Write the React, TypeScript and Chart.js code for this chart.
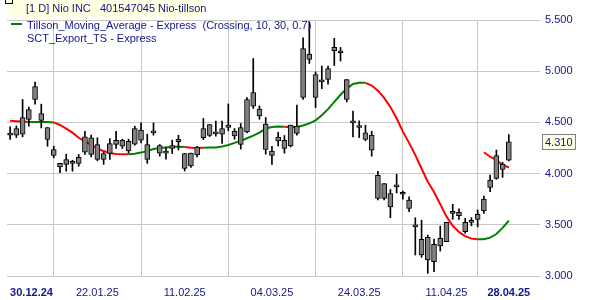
import React, { useEffect, useRef } from 'react';
import { Chart, registerables } from 'chart.js';

Chart.register(...registerables);

// ---- data (index 0 = 30.12.24 ... 80 = 28.04.25, trading days) ----
const opens = [
  4.375, 4.375, 4.385, 4.528, 4.724, 4.587, 4.45, 4.235, 4.10, 4.09,
  4.10, 4.10, 4.21, 4.35, 4.284, 4.138, 4.196, 4.284, 4.326, 4.316,
  4.287, 4.424, 4.284, 4.398, 4.274, 4.22, 4.245, 4.313, 4.196, 4.075,
  4.183, 4.35, 4.479, 4.388, 4.385, 4.45, 4.414, 4.284, 4.408, 4.658,
  4.629, 4.483, 4.22, 4.32, 4.326, 4.27, 4.463, 4.743, 5.166, 4.967,
  4.896, 4.919, 5.20, 5.18, 4.919, 4.495, 4.45, 4.398, 4.375, 3.984,
  3.902, 3.804, 3.871, 3.798, 3.742, 3.48, 3.358, 3.156, 3.31, 3.293,
  3.335, 3.612, 3.59, 3.433, 3.524, 3.553, 3.635, 3.866, 3.954, 4.09,
  4.13,
];
const highs = [
  4.456, 4.465, 4.724, 4.65, 4.893, 4.678, 4.45, 4.267, 4.10, 4.19,
  4.13, 4.187, 4.414, 4.375, 4.35, 4.212, 4.343, 4.414, 4.336, 4.336,
  4.463, 4.495, 4.385, 4.495, 4.284, 4.255, 4.326, 4.375, 4.196, 4.20,
  4.267, 4.538, 4.479, 4.512, 4.512, 4.68, 4.44, 4.489, 4.743, 5.124,
  4.661, 4.548, 4.267, 4.404, 4.372, 4.473, 4.668, 5.325, 5.482, 4.993,
  5.05, 5.05, 5.32, 5.232, 4.919, 4.61, 4.515, 4.473, 4.414, 4.023,
  3.902, 3.845, 3.994, 3.83, 3.774, 3.569, 3.545, 3.40, 3.36, 3.488,
  3.524, 3.70, 3.655, 3.563, 3.57, 3.645, 3.78, 3.986, 4.23, 4.11,
  4.382,
];
const lows = [
  4.333, 4.352, 4.358, 4.463, 4.678, 4.446, 4.267, 4.154, 4.01, 4.023,
  4.023, 4.072, 4.187, 4.163, 4.125, 4.09, 4.138, 4.245, 4.245, 4.20,
  4.277, 4.30, 4.10, 4.375, 4.17, 4.14, 4.196, 4.23, 4.026, 4.06,
  4.163, 4.333, 4.362, 4.365, 4.294, 4.417, 4.336, 4.24, 4.398, 4.636,
  4.531, 4.19, 4.09, 4.27, 4.20, 4.26, 4.375, 4.724, 5.075, 4.645,
  4.83, 4.873, 5.056, 5.10, 4.70, 4.358, 4.352, 4.32, 4.17, 3.742,
  3.742, 3.569, 3.811, 3.75, 3.628, 3.205, 3.182, 3.026, 3.042, 3.244,
  3.335, 3.553, 3.553, 3.417, 3.49, 3.48, 3.612, 3.824, 3.944, 3.964,
  4.125,
];
const closes = [
  4.375, 4.44, 4.548, 4.626, 4.85, 4.52, 4.333, 4.177, 4.065, 4.138,
  4.10, 4.158, 4.358, 4.187, 4.138, 4.196, 4.294, 4.326, 4.268, 4.221,
  4.44, 4.326, 4.138, 4.398, 4.20, 4.20, 4.274, 4.336, 4.05, 4.20,
  4.26, 4.44, 4.372, 4.388, 4.44, 4.473, 4.368, 4.45, 4.724, 4.792,
  4.564, 4.235, 4.177, 4.356, 4.245, 4.473, 4.392, 5.222, 5.114, 4.743,
  4.896, 5.026, 5.232, 5.18, 4.724, 4.495, 4.45, 4.333, 4.23, 3.757,
  3.757, 3.674, 3.871, 3.798, 3.66, 3.48, 3.205, 3.378, 3.14, 3.368,
  3.524, 3.612, 3.622, 3.524, 3.524, 3.602, 3.752, 3.937, 4.175, 4.04,
  4.31,
];
// Tillson moving average (T3) values per bar
const tillson = [
  4.515, 4.512, 4.509, 4.505, 4.505, 4.505, 4.505, 4.50, 4.475, 4.44,
  4.40, 4.35, 4.315, 4.28, 4.245, 4.22, 4.20, 4.192, 4.19, 4.19,
  4.195, 4.205, 4.22, 4.24, 4.25, 4.256, 4.262, 4.262, 4.26, 4.252,
  4.25, 4.252, 4.255, 4.256, 4.265, 4.28, 4.30, 4.32, 4.345, 4.37,
  4.40, 4.44, 4.455, 4.46, 4.458, 4.453, 4.455, 4.47, 4.49, 4.52,
  4.57, 4.63, 4.70, 4.77, 4.83, 4.875, 4.886, 4.886, 4.86, 4.81,
  4.74, 4.65, 4.54, 4.41, 4.30, 4.18, 4.05, 3.92, 3.82, 3.70,
  3.58, 3.49, 3.43, 3.39, 3.365, 3.358, 3.36, 3.375, 3.41, 3.47,
  3.54,
];
// bar-index ranges [from, to) where the Tillson line is drawn as falling (red)
const tillsonFalling = [[0, 3], [7, 19], [28, 31], [44, 46], [57, 75]];
// SCT_Export_TS values, starting at bar 76
const sctStart = 76;
const sctValues = [4.208, 4.165, 4.133, 4.084, 4.06];
// x-axis ticks
const tickIndices = [0, 14, 28, 42, 56, 70, 80];
const tickLabels = ['30.12.24', '22.01.25', '11.02.25', '04.03.25', '24.03.25', '11.04.25', '28.04.25'];
const lastPrice = 4.31;

const FONT = "'Liberation Sans', Arial, sans-serif";
const NAVY = '#15158a';
const GRID = '#c8c8c8';
const RED = '#ff0000';
const GREEN = '#008000';

const isFalling = (i: number) => tillsonFalling.some(([a, b]) => i >= a && i < b);

const priceTag = {
  id: 'priceTag',
  afterDraw(chart: any) {
    const { ctx, chartArea, scales } = chart;
    const py = scales.y.getPixelForValue(lastPrice);
    const text = lastPrice.toFixed(3);
    ctx.save();
    ctx.font = `11px ${FONT}`;
    const w = Math.round(ctx.measureText(text).width) + 5;
    const x0 = Math.round(chartArea.right) + 2;
    const top = Math.round(py - 8);
    ctx.fillStyle = '#ffffe1';
    ctx.fillRect(x0, top, w, 16);
    ctx.strokeStyle = '#808080';
    ctx.lineWidth = 1;
    ctx.strokeRect(x0 + 0.5, top + 0.5, w, 15);
    ctx.fillStyle = NAVY;
    ctx.textBaseline = 'middle';
    ctx.textAlign = 'left';
    ctx.fillText(text, x0 + 3, top + 8.5);
    ctx.restore();
  },
};

export default function App() {
  const ref = useRef<HTMLCanvasElement | null>(null);

  useEffect(() => {
    if (!ref.current) return;
    const chart = new Chart(ref.current, {
      type: 'bar',
      data: {
        datasets: [
          {
            type: 'bar',
            label: 'body',
            data: opens.map((o, i) => ({ x: i, y: [Math.min(o, closes[i]), Math.max(o, closes[i])] })),
            backgroundColor: '#808080',
            borderColor: '#000000',
            borderWidth: 1,
            borderSkipped: false,
            barThickness: 5,
            minBarLength: 2,
            grouped: false,
            order: 0,
          } as any,
          {
            type: 'bar',
            label: 'wick',
            data: highs.map((h, i) => ({ x: i, y: [lows[i], h] })),
            backgroundColor: '#000000',
            borderWidth: 0,
            barThickness: 1,
            grouped: false,
            order: 1,
          } as any,
          {
            type: 'line',
            label: 'SCT_Export_TS',
            data: sctValues.map((v, k) => ({ x: sctStart + k, y: v })),
            borderColor: RED,
            borderWidth: 2,
            pointRadius: 0,
            tension: 0,
            order: 2,
          } as any,
          {
            type: 'line',
            label: 'Tillson_Moving_Average',
            data: tillson.map((v, i) => ({ x: i, y: v })),
            borderColor: GREEN,
            borderWidth: 2,
            pointRadius: 0,
            tension: 0,
            order: 3,
            segment: {
              borderColor: (ctx: any) => (isFalling(ctx.p0DataIndex) ? RED : GREEN),
            },
          } as any,
        ],
      },
      options: {
        animation: false,
        responsive: false,
        devicePixelRatio: 1,
        layout: { padding: { left: 7, top: 20, right: 0, bottom: 0 } },
        plugins: { legend: { display: false }, tooltip: { enabled: false } },
        scales: {
          x: {
            type: 'linear',
            min: -0.5,
            max: 85,
            offset: false,
            afterBuildTicks: (s: any) => {
              s.ticks = [...tickIndices, 85].map((v) => ({ value: v }));
            },
            afterFit: (s: any) => {
              s.height = 24;
            },
            grid: {
              color: (ctx: any) => (ctx.tick && tickIndices.indexOf(ctx.tick.value) < 0 ? 'rgba(0,0,0,0)' : GRID),
              drawTicks: false,
              lineWidth: 1,
            },
            border: { display: false },
            ticks: {
              autoSkip: false,
              maxRotation: 0,
              minRotation: 0,
              align: 'inner',
              padding: 10,
              color: NAVY,
              font: (ctx: any) => ({
                family: FONT,
                size: 11,
                weight:
                  ctx.tick && (ctx.tick.value === tickIndices[0] || ctx.tick.value === tickIndices[tickIndices.length - 1])
                    ? 'bold'
                    : 'normal',
              }),
              callback: (v: any) => {
                const k = tickIndices.indexOf(Number(v));
                return k >= 0 ? tickLabels[k] : '';
              },
            },
          } as any,
          y: {
            position: 'right',
            min: 3,
            max: 5.5,
            afterFit: (s: any) => {
              s.width = 60;
            },
            grid: { color: GRID, drawTicks: false, lineWidth: 1 },
            border: { display: false },
            ticks: {
              stepSize: 0.5,
              padding: 5,
              color: NAVY,
              font: { family: FONT, size: 11 },
              callback: (v: any) => Number(v).toFixed(3),
            },
          } as any,
        },
      },
      plugins: [priceTag],
    });
    return () => chart.destroy();
  }, []);

  const text: React.CSSProperties = {
    position: 'absolute',
    fontFamily: FONT,
    fontSize: 11,
    lineHeight: '13px',
    color: NAVY,
    whiteSpace: 'pre',
  };

  return (
    <div style={{ position: 'fixed', left: 0, top: 0, width: 600, height: 300, background: '#ffffff', overflow: 'hidden' }}>
      <canvas ref={ref} width={600} height={300} style={{ display: 'block', width: 600, height: 300 }} />
      <div style={{ position: 'absolute', left: 7, top: 0, width: 195, height: 17, background: '#ffffe1' }} />
      <div style={{ position: 'absolute', left: 5, top: -3, width: 6, height: 5, border: '1px solid #000' }} />
      <div style={{ ...text, left: 26, top: 2 }}>[1 D] Nio INC   401547045 Nio-tillson</div>
      <div style={{ position: 'absolute', left: 11, top: 23, width: 11, height: 2, background: GREEN }} />
      <div style={{ ...text, left: 27, top: 19 }}>Tillson_Moving_Average - Express  (Crossing, 10, 30, 0.7)</div>
      <div style={{ ...text, left: 27, top: 32 }}>SCT_Export_TS - Express</div>
    </div>
  );
}
